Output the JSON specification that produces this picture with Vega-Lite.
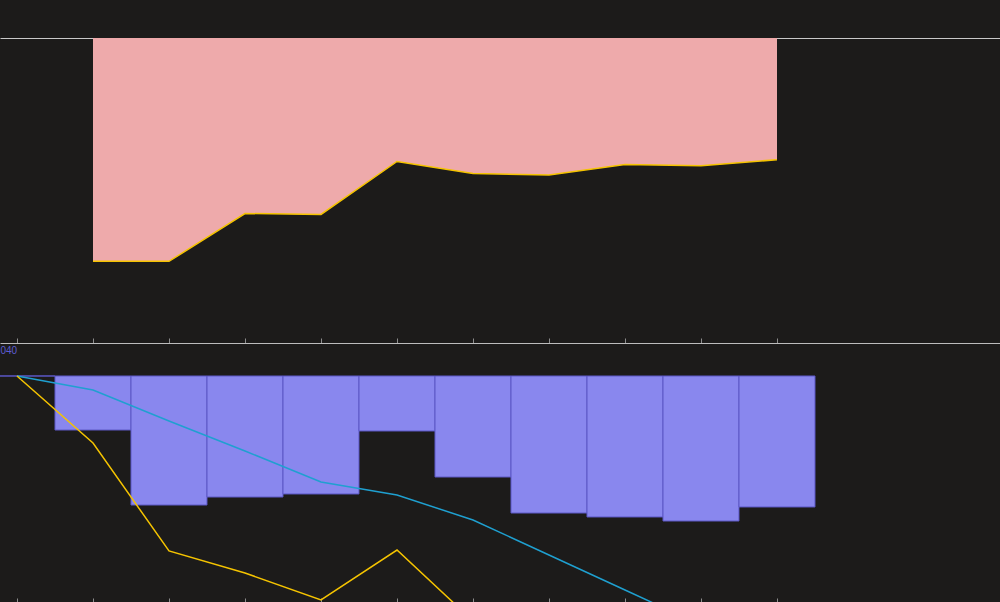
{
  "$schema": "https://vega.github.io/schema/vega-lite/v6.json",
  "background": "#1c1b1a",
  "padding": {"top": 38, "left": 0, "right": 0, "bottom": 0},
  "spacing": 0,
  "config": {"view": {"stroke": null}, "axis": {"grid": false}},
  "datasets": {
    "upper": [
      {"k": 1, "value": 25.3},
      {"k": 2, "value": 25.3},
      {"k": 3, "value": 41.3},
      {"k": 4, "value": 41.0},
      {"k": 5, "value": 58.7},
      {"k": 6, "value": 54.7},
      {"k": 7, "value": 54.2},
      {"k": 8, "value": 57.7},
      {"k": 9, "value": 57.3},
      {"k": 10, "value": 59.3}
    ],
    "bars": [
      {"k": 0, "value": 0},
      {"k": 1, "value": -83.1},
      {"k": 2, "value": -198.5},
      {"k": 3, "value": -186.2},
      {"k": 4, "value": -181.5},
      {"k": 5, "value": -84.6},
      {"k": 6, "value": -155.4},
      {"k": 7, "value": -210.8},
      {"k": 8, "value": -216.9},
      {"k": 9, "value": -223.1},
      {"k": 10, "value": -201.5}
    ],
    "cyan": [
      {"k": 0, "value": 0},
      {"k": 1, "value": -21.5},
      {"k": 2, "value": -69.2},
      {"k": 3, "value": -115.4},
      {"k": 4, "value": -163.1},
      {"k": 5, "value": -183.1},
      {"k": 6, "value": -221.5},
      {"k": 7, "value": -275.4},
      {"k": 8, "value": -329.2},
      {"k": 9, "value": -383.1},
      {"k": 10, "value": -436.9}
    ],
    "yellow": [
      {"k": 0, "value": 0},
      {"k": 1, "value": -103.1},
      {"k": 2, "value": -269.2},
      {"k": 3, "value": -303.1},
      {"k": 4, "value": -344.6},
      {"k": 5, "value": -267.7},
      {"k": 6, "value": -376.9}
    ]
  },
  "vconcat": [
    {
      "width": 1000,
      "height": 299,
      "layer": [
        {
          "data": {"name": "upper"},
          "mark": {"type": "area", "color": "#eeaaab"},
          "encoding": {
            "x": {"field": "k", "type": "quantitative", "scale": {"domain": [-0.22368, 12.93421], "nice": false, "zero": false, "padding": 0},
                  "axis": {"orient": "top", "labels": false, "ticks": false, "domainColor": "#c9c9c9", "title": null}},
            "y": {"field": "value", "type": "quantitative", "scale": {"domain": [0, 100], "nice": false, "zero": false}, "axis": null},
            "y2": {"datum": 100}
          }
        },
        {
          "data": {"name": "upper"},
          "mark": {"type": "line", "color": "#f5c400", "strokeWidth": 1.5},
          "encoding": {
            "x": {"field": "k", "type": "quantitative"},
            "y": {"field": "value", "type": "quantitative"}
          }
        }
      ]
    },
    {
      "width": 1000,
      "height": 259,
      "resolve": {"axis": {"x": "independent", "y": "independent"}},
      "layer": [
        {
          "data": {"name": "bars"},
          "mark": {"type": "bar", "width": 76, "color": "#8987ee", "stroke": "#5c58c6", "strokeWidth": 1, "clip": true},
          "encoding": {
            "x": {"field": "k", "type": "quantitative", "scale": {"domain": [-0.22368, 12.93421], "nice": false, "zero": false, "padding": 0},
                  "axis": {"orient": "top", "values": [0, 1, 2, 3, 4, 5, 6, 7, 8, 9, 10], "labels": false, "tickSize": 5, "tickColor": "#8c8c8c", "domainColor": "#bdbdbd", "title": null}},
            "y": {"field": "value", "type": "quantitative", "scale": {"domain": [-347.7, 50.77], "nice": false, "zero": false, "padding": 0},
                  "axis": {"orient": "left", "values": [40], "format": "03d", "labelAlign": "left", "labelPadding": 0, "tickSize": 0, "ticks": false, "domain": false, "labelColor": "#5d5bd0", "labelFontSize": 10, "labelFont": "Liberation Sans", "title": null}},
            "y2": {"datum": 0}
          }
        },
        {
          "data": {"name": "cyan"},
          "mark": {"type": "line", "color": "#1fa0d0", "strokeWidth": 1.5, "clip": true},
          "encoding": {
            "x": {"field": "k", "type": "quantitative",
                  "axis": {"orient": "bottom", "offset": -4, "values": [0, 1, 2, 3, 4, 5, 6, 7, 8, 9, 10], "labels": false, "domain": false, "tickSize": 4, "tickColor": "#8c8c8c", "title": null}},
            "y": {"field": "value", "type": "quantitative", "axis": null}
          }
        },
        {
          "data": {"name": "yellow"},
          "mark": {"type": "line", "color": "#f5c400", "strokeWidth": 1.5, "clip": true},
          "encoding": {
            "x": {"field": "k", "type": "quantitative", "axis": null},
            "y": {"field": "value", "type": "quantitative", "axis": null}
          }
        }
      ]
    }
  ]
}
